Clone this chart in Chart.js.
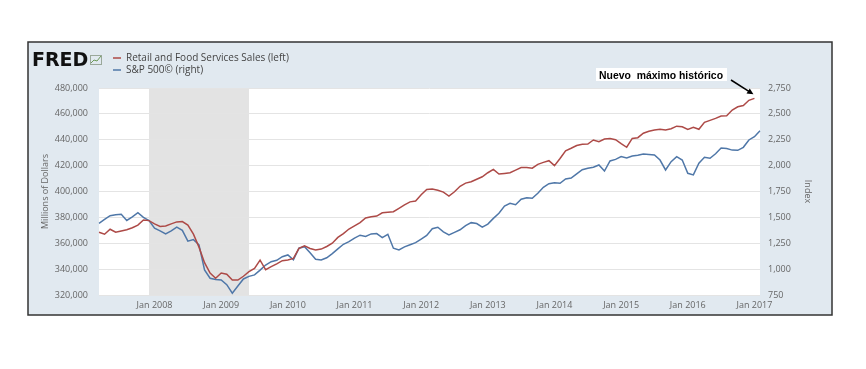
<!DOCTYPE html>
<html lang="es">
<head>
<meta charset="UTF-8">
<title>Retail and Food Services Sales vs S&amp;P 500</title>
<script src="https://cdn.jsdelivr.net/npm/chart.js"></script>
<style>
  body { margin: 0; padding: 0; background: #fff; }
  canvas { display: block; }
</style>
</head>
<body>
<canvas id="myChart" width="866" height="369"></canvas>
<script>
// Monthly categories, Mar 2007 .. Feb 2017
const startYear = 2007, startMonth = 2;
const monthNames = ['Jan','Feb','Mar','Apr','May','Jun','Jul','Aug','Sep','Oct','Nov','Dec'];
const months = [];
for (let i = 0; i < 120; i++) {
    const m = (startMonth + i) % 12, y = startYear + Math.floor((startMonth + i) / 12);
    months.push(monthNames[m] + ' ' + y);
}
const xTickLabels = ['Jan 2008','Jan 2009','Jan 2010','Jan 2011','Jan 2012','Jan 2013','Jan 2014','Jan 2015','Jan 2016','Jan 2017'];
const recession = ['Dec 2007', 'Jun 2009'];

// Retail and Food Services Sales, millions of dollars (left)
const retailSales = [
    368500,367000,370800,368500,369500,370500,372000,374000,378000,377500,
    375000,373000,373300,375000,376500,376800,374000,367000,357000,345000,
    337000,333000,337000,336000,331500,331500,334500,338000,340600,347000,
    339500,341900,344000,346500,347000,348300,356000,358000,356000,354800,
    355500,357500,360000,364500,367500,371000,373500,376000,379500,380500,
    381000,383500,384000,384400,387000,389600,392000,392600,397500,401500,
    402000,401000,399500,396500,399800,404000,406500,407500,409500,411400,
    414500,417100,413500,414000,414500,416500,418500,418500,418000,421000,
    422500,423800,420000,425500,431500,433400,435500,436500,436700,439800,
    438500,440500,441000,440000,437000,434200,441000,441600,445000,446500,
    447500,448100,447500,448500,450500,450000,448000,449600,448100,453500,
    455000,456500,458400,458500,463000,465500,466500,470500,472000,null
];
// S&P 500 index (right)
const sp500 = [
    1443,1480,1516,1525,1530,1470,1505,1545,1500,1470,
    1395,1370,1340,1370,1405,1375,1270,1285,1235,992,
    912,900,895,850,767,837,905,930,944,990,
    1040,1072,1085,1120,1137,1090,1202,1217,1159,1095,
    1088,1110,1150,1195,1240,1265,1300,1328,1316,1340,
    1344,1305,1337,1202,1185,1215,1235,1256,1290,1325,
    1390,1405,1360,1330,1355,1380,1420,1449,1440,1405,
    1435,1490,1540,1610,1636,1622,1675,1690,1684,1733,
    1790,1825,1835,1829,1871,1880,1920,1960,1975,1985,
    2006,1948,2045,2060,2087,2075,2093,2100,2112,2108,
    2103,2054,1958,2038,2087,2054,1926,1910,2024,2081,
    2071,2115,2170,2165,2150,2148,2177,2248,2280,2338
];
const seriesNames = ['Retail and Food Services Sales (left)', 'S&P 500\u00A9 (right)'];
const annotationText = 'Nuevo  m\u00E1ximo hist\u00F3rico';

const RED = '#ad4a47', BLUE = '#4f77a8';
const tickFont = { family: 'Open Sans', size: 9 };

// frame, plot background, recession shading, FRED header, note
const fredPlugin = {
    id: 'fredPlugin',
    beforeDraw(chart) {
        const { ctx, chartArea: a, scales: { x } } = chart;
        ctx.save();
        ctx.fillStyle = '#fff';
        ctx.fillRect(0, 0, chart.width, chart.height);
        ctx.fillStyle = '#e1e9f0';
        ctx.fillRect(28, 42, 804, 273);
        ctx.strokeStyle = '#333';
        ctx.lineWidth = 1.5;
        ctx.strokeRect(28, 42, 804, 273);
        ctx.fillStyle = '#fff';
        ctx.fillRect(a.left, a.top, a.right - a.left, a.bottom - a.top);
        const x0 = x.getPixelForValue(months.indexOf(recession[0]));
        const x1 = x.getPixelForValue(months.indexOf(recession[1]));
        ctx.fillStyle = '#e3e3e3';
        ctx.fillRect(x0, a.top, x1 - x0, a.bottom - a.top);
        ctx.restore();
    },
    afterDraw(chart) {
        const { ctx, scales: { x, y } } = chart;
        ctx.save();
        // logo
        ctx.fillStyle = '#111';
        ctx.font = 'bold 19px "DejaVu Sans"';
        ctx.textBaseline = 'alphabetic';
        ctx.fillText('FRED', 32, 66);
        ctx.strokeStyle = '#9aa89a';
        ctx.lineWidth = 1;
        ctx.strokeRect(90.5, 55.5, 11, 9);
        ctx.strokeStyle = '#6d9a5a';
        ctx.beginPath();
        ctx.moveTo(91, 63); ctx.lineTo(94, 60); ctx.lineTo(97, 61); ctx.lineTo(101, 56);
        ctx.stroke();
        // legend
        ctx.font = '10px "Open Sans"';
        ctx.textBaseline = 'middle';
        [[RED, 58], [BLUE, 70]].forEach(([c, ly], i) => {
            ctx.strokeStyle = c;
            ctx.lineWidth = 1.5;
            ctx.beginPath();
            ctx.moveTo(113, ly); ctx.lineTo(121, ly);
            ctx.stroke();
            ctx.fillStyle = '#444';
            ctx.fillText(seriesNames[i], 126, ly);
        });
        // annotation
        ctx.fillStyle = '#fff';
        ctx.fillRect(596, 68, 131, 13);
        ctx.fillStyle = '#000';
        ctx.font = 'bold 11px "Liberation Sans"';
        ctx.textBaseline = 'alphabetic';
        ctx.fillText(annotationText, 599, 78.5, 124);
        const last = retailSales.length - 2;
        const tx = x.getPixelForValue(last) - 1, ty = y.getPixelForValue(retailSales[last]) - 4;
        const sx = 731, sy = 80;
        const ang = Math.atan2(ty - sy, tx - sx);
        ctx.strokeStyle = '#000';
        ctx.lineWidth = 1.5;
        ctx.beginPath();
        ctx.moveTo(sx, sy); ctx.lineTo(tx - 4 * Math.cos(ang), ty - 4 * Math.sin(ang));
        ctx.stroke();
        ctx.beginPath();
        ctx.moveTo(tx, ty);
        ctx.lineTo(tx - 7 * Math.cos(ang - 0.45), ty - 7 * Math.sin(ang - 0.45));
        ctx.lineTo(tx - 7 * Math.cos(ang + 0.45), ty - 7 * Math.sin(ang + 0.45));
        ctx.closePath();
        ctx.fill();
        ctx.restore();
    }
};

const ctx = document.getElementById('myChart').getContext('2d');
new Chart(ctx, {
    type: 'line',
    data: {
        labels: months,
        datasets: [
            {
                label: seriesNames[0],
                data: retailSales,
                yAxisID: 'y',
                borderColor: RED,
                borderWidth: 1.5,
                pointRadius: 0,
                tension: 0,
                fill: false
            },
            {
                label: seriesNames[1],
                data: sp500,
                yAxisID: 'y1',
                borderColor: BLUE,
                borderWidth: 1.5,
                pointRadius: 0,
                tension: 0,
                fill: false
            }
        ]
    },
    options: {
        responsive: false,
        animation: false,
        devicePixelRatio: 1,
        layout: { padding: { left: 36, right: 49, top: 88, bottom: 54 } },
        plugins: {
            legend: { display: false },
            tooltip: { enabled: false }
        },
        scales: {
            x: {
                type: 'category',
                offset: false,
                grid: { display: false, drawTicks: false },
                border: { display: false },
                ticks: {
                    autoSkip: false,
                    maxRotation: 0,
                    padding: 5,
                    color: '#666',
                    font: tickFont,
                    callback: function (v, i) {
                        const l = months[i];
                        return xTickLabels.includes(l) ? l : '';
                    }
                },
                afterFit: s => { s.height = 20; }
            },
            y: {
                position: 'left',
                min: 320000,
                max: 480000,
                border: { display: false },
                grid: { color: '#e4e4e4', lineWidth: 1, drawTicks: false },
                ticks: {
                    stepSize: 20000,
                    padding: 11,
                    color: '#666',
                    font: tickFont,
                    callback: v => v.toLocaleString('en-US')
                },
                title: {
                    display: true,
                    text: 'Millions of Dollars',
                    color: '#666',
                    font: tickFont,
                    padding: { top: 4, bottom: 0 }
                },
                afterFit: s => { s.width = 63; }
            },
            y1: {
                position: 'right',
                min: 750,
                max: 2750,
                border: { display: false },
                grid: { display: false, drawTicks: false },
                ticks: {
                    stepSize: 250,
                    padding: 8,
                    color: '#666',
                    font: tickFont,
                    callback: v => v.toLocaleString('en-US')
                },
                title: {
                    display: true,
                    text: 'Index',
                    color: '#666',
                    font: tickFont,
                    padding: { top: 4, bottom: 0 }
                },
                afterFit: s => { s.width = 57; }
            }
        }
    },
    plugins: [fredPlugin]
});
</script>
</body>
</html>
